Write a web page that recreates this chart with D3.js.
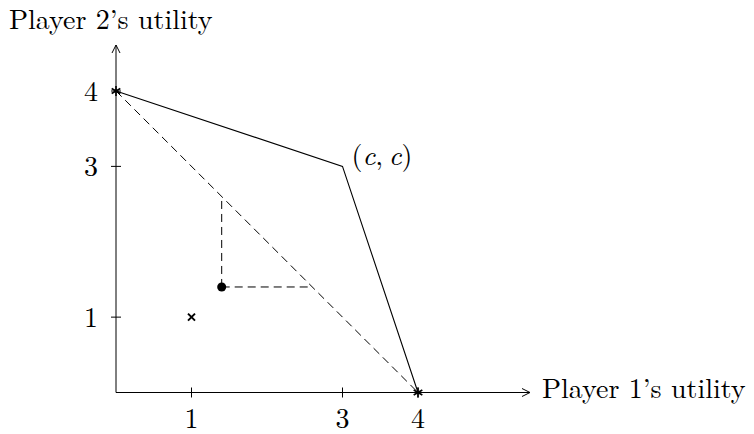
<!DOCTYPE html>
<html>
<head>
<meta charset="utf-8">
<script src="https://cdn.jsdelivr.net/npm/d3@7"></script>
<style>
  body { margin: 0; background: #fff; }
  text { font-family: "Latin Modern Roman", "Liberation Serif", "DejaVu Serif", serif; fill: #000; }
</style>
</head>
<body>
<div id="chart"></div>
<script>
// frontier of feasible payoffs
const frontier = [[0, 4], [3, 3], [4, 0]];
// dashed line between the two pure outcomes
const chord = [[0, 4], [4, 0]];
// starred endpoints
const stars = [[0, 4], [4, 0]];
// disagreement point and bargaining point
const crossPt = [1, 1];
const dotPt = [1.4, 1.4];
const labelPt = [3, 3];
const xTicks = [1, 3, 4];
const yTicks = [1, 3, 4];

const width = 754, height = 434;
const fs = 28;
const svg = d3.select('#chart').append('svg')
  .attr('width', width).attr('height', height);

const x = d3.scaleLinear().domain([0, 4]).range([116, 418]);
const y = d3.scaleLinear().domain([0, 4]).range([392.5, 91]);

// arrow marker
svg.append('defs').append('marker')
  .attr('id', 'arr').attr('viewBox', '0 0 10 10')
  .attr('refX', 9).attr('refY', 5)
  .attr('markerWidth', 10).attr('markerHeight', 10)
  .attr('markerUnits', 'userSpaceOnUse')
  .attr('orient', 'auto')
  .append('path').attr('d', 'M1,1 L9,5 L1,9')
  .attr('fill', 'none').attr('stroke', '#000').attr('stroke-width', 1);

// axes
svg.append('line')
  .attr('x1', x(0)).attr('y1', y(0)).attr('x2', 530).attr('y2', y(0))
  .attr('stroke', '#000').attr('stroke-width', 1).attr('marker-end', 'url(#arr)');
svg.append('line')
  .attr('x1', x(0)).attr('y1', y(0)).attr('x2', x(0)).attr('y2', 45)
  .attr('stroke', '#000').attr('stroke-width', 1).attr('marker-end', 'url(#arr)');

// ticks
svg.selectAll('.xt').data(xTicks).enter().append('line')
  .attr('x1', d => x(d)).attr('x2', d => x(d))
  .attr('y1', y(0) - 5).attr('y2', y(0) + 5)
  .attr('stroke', '#000').attr('stroke-width', 1);
svg.selectAll('.xl').data(xTicks).enter().append('text')
  .attr('x', d => x(d)).attr('y', y(0) + 35)
  .attr('text-anchor', 'middle').attr('font-size', fs)
  .text(d => d);
svg.selectAll('.yt').data(yTicks).enter().append('line')
  .attr('y1', d => y(d)).attr('y2', d => y(d))
  .attr('x1', x(0) - 5).attr('x2', x(0) + 5)
  .attr('stroke', '#000').attr('stroke-width', 1);
svg.selectAll('.yl').data(yTicks).enter().append('text')
  .attr('x', x(0) - 18).attr('y', d => y(d) + 10)
  .attr('text-anchor', 'end').attr('font-size', fs)
  .text(d => d);

// axis labels
svg.append('text').attr('x', 542).attr('y', 398)
  .attr('font-size', fs).text('Player 1\u2019s utility');
svg.append('text').attr('x', 9).attr('y', 29)
  .attr('font-size', fs).text('Player 2\u2019s utility');

const line = d3.line().x(d => x(d[0])).y(d => y(d[1]));

// frontier
svg.append('path').datum(frontier).attr('d', line)
  .attr('fill', 'none').attr('stroke', '#000').attr('stroke-width', 1.1);

// dashed chord
svg.append('path').datum(chord).attr('d', line)
  .attr('fill', 'none').attr('stroke', '#000').attr('stroke-width', 1)
  .attr('stroke-dasharray', '8,5');

// dashed projections from the dot onto the chord
const total = chord[0][0] + chord[0][1];
const proj = [
  [dotPt, [dotPt[0], total - dotPt[0]]],
  [dotPt, [total - dotPt[1], dotPt[1]]]
];
svg.selectAll('.proj').data(proj).enter().append('path')
  .attr('d', line)
  .attr('fill', 'none').attr('stroke', '#000').attr('stroke-width', 1)
  .attr('stroke-dasharray', '8,5');

// dot
svg.append('circle').attr('cx', x(dotPt[0])).attr('cy', y(dotPt[1]))
  .attr('r', 4.5).attr('fill', '#000');

// cross
svg.append('path')
  .attr('transform', `translate(${x(crossPt[0])},${y(crossPt[1])})`)
  .attr('d', 'M-3.5,-3.5 L3.5,3.5 M-3.5,3.5 L3.5,-3.5')
  .attr('stroke', '#000').attr('stroke-width', 2);

// stars
const star = d3.symbol().type(d3.symbolAsterisk).size(70);
svg.selectAll('.star').data(stars).enter().append('path')
  .attr('transform', d => `translate(${x(d[0])},${y(d[1])})`)
  .attr('d', star)
  .attr('fill', 'none').attr('stroke', '#000').attr('stroke-width', 1.6);

// (c, c) label
const lab = svg.append('text')
  .attr('x', x(labelPt[0]) + 9).attr('y', y(labelPt[1]) - 1)
  .attr('font-size', fs);
lab.append('tspan').text('(');
lab.append('tspan').attr('font-style', 'italic').text('c');
lab.append('tspan').text(',\u2009');
lab.append('tspan').attr('font-style', 'italic').text('c');
lab.append('tspan').text(')');
</script>
</body>
</html>
